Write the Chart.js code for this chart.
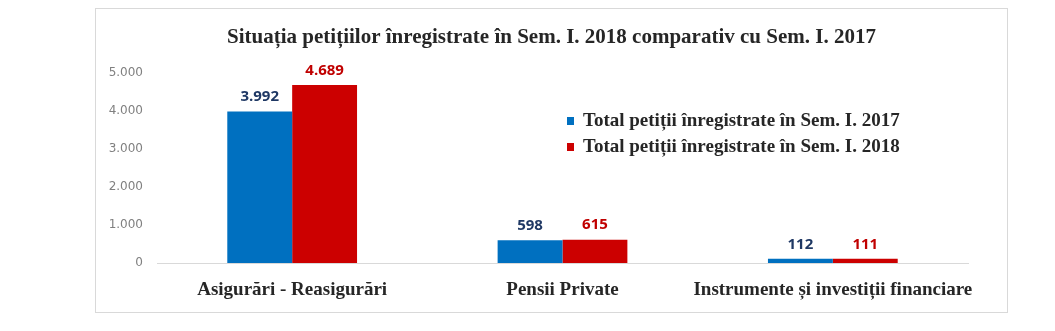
<!DOCTYPE html>
<html>
<head>
<meta charset="utf-8">
<script src="https://cdn.jsdelivr.net/npm/chart.js@4/dist/chart.umd.min.js"></script>
<style>
  html, body { margin: 0; padding: 0; background: #ffffff; }
  body { width: 1055px; height: 331px; position: relative; overflow: hidden; }
  #box { position: absolute; left: 95px; top: 8px; width: 911px; height: 303px; border: 1px solid #d9d9d9; background: #fff; }
  #c { display: block; }
</style>
</head>
<body>
<div id="box"><canvas id="c" width="911" height="303"></canvas></div>
<script>
const titleText = "Situația petițiilor înregistrate în Sem. I. 2018 comparativ cu Sem. I. 2017";
const categories = ["Asigurări - Reasigurări", "Pensii Private", "Instrumente și investiții financiare"];
const seriesNames = ["Total petiții înregistrate în Sem. I. 2017", "Total petiții înregistrate în Sem. I. 2018"];
const values2017 = [3992, 598, 112];
const values2018 = [4689, 615, 111];
const yTicks = [0, 1000, 2000, 3000, 4000, 5000];

const barColors = ["#0070C0", "#CC0000"];
const labelColors = ["#1F3864", "#C00000"];

function fmt(v) {
  return String(v).replace(/\B(?=(\d{3})+(?!\d))/g, ".");
}

const dataLabelPlugin = {
  id: 'dataLabels',
  afterDatasetsDraw(chart) {
    const ctx = chart.ctx;
    ctx.save();
    ctx.font = 'bold 15px "Open Sans", sans-serif';
    ctx.textAlign = 'center';
    ctx.textBaseline = 'bottom';
    chart.data.datasets.forEach((ds, di) => {
      const meta = chart.getDatasetMeta(di);
      ctx.fillStyle = labelColors[di];
      meta.data.forEach((bar, i) => {
        ctx.fillText(fmt(ds.data[i]), bar.x, bar.y - 7);
      });
    });
    ctx.restore();
  }
};

const legendPlugin = {
  id: 'customLegend',
  afterDraw(chart) {
    const ctx = chart.ctx;
    ctx.save();
    ctx.font = 'bold 19px "Liberation Serif", serif';
    ctx.textBaseline = 'middle';
    ctx.textAlign = 'left';
    const x0 = 471, y0 = 111, dy = 26;
    chart.data.datasets.forEach((ds, di) => {
      const y = y0 + di * dy;
      ctx.fillStyle = ds.backgroundColor;
      ctx.fillRect(x0, y - 3, 7, 8);
      ctx.fillStyle = '#262626';
      ctx.fillText(ds.label, x0 + 16, y + 1);
    });
    ctx.restore();
  }
};

new Chart(document.getElementById('c'), {
  type: 'bar',
  data: {
    labels: categories,
    datasets: [
      { label: seriesNames[0], data: values2017, backgroundColor: barColors[0], borderWidth: 0, yAxisID: 'y' },
      { label: seriesNames[1], data: values2018, backgroundColor: barColors[1], borderWidth: 0, yAxisID: 'y' }
    ]
  },
  options: {
    responsive: false,
    animation: false,
    devicePixelRatio: 1,
    layout: { padding: { left: 9, right: 9, top: 0, bottom: 0 } },
    plugins: {
      legend: { display: false },
      tooltip: { enabled: false },
      title: {
        display: true,
        text: titleText,
        color: '#262626',
        font: { family: '"Liberation Serif", serif', size: 21, weight: 'bold', lineHeight: 1.2 },
        padding: { top: 16, bottom: 23 }
      }
    },
    datasets: {
      bar: { categoryPercentage: 0.48, barPercentage: 1.0 }
    },
    scales: {
      x: {
        grid: { display: false },
        border: { display: true, color: '#d9d9d9', width: 1 },
        ticks: {
          color: '#262626',
          font: { family: '"Liberation Serif", serif', size: 19, weight: 'bold' },
          padding: 8,
          autoSkip: false,
          maxRotation: 0,
          minRotation: 0
        },
        afterFit(scale) { scale.height = 49; }
      },
      y: {
        position: 'left',
        min: 0,
        max: 5000,
        afterBuildTicks(scale) { scale.ticks = yTicks.map(v => ({ value: v })); },
        grid: { display: false, drawTicks: false },
        border: { display: false },
        ticks: {
          color: '#808080',
          font: { family: '"DejaVu Sans", sans-serif', size: 12 },
          padding: 14,
          callback: (v) => fmt(v)
        },
        afterFit(scale) { scale.width = 52; }
      },
      yRight: {
        position: 'right',
        display: true,
        min: 0,
        max: 5000,
        grid: { display: false, drawTicks: false },
        border: { display: false },
        ticks: { display: false },
        afterFit(scale) { scale.width = 30; }
      }
    }
  },
  plugins: [dataLabelPlugin, legendPlugin]
});
</script>
</body>
</html>
